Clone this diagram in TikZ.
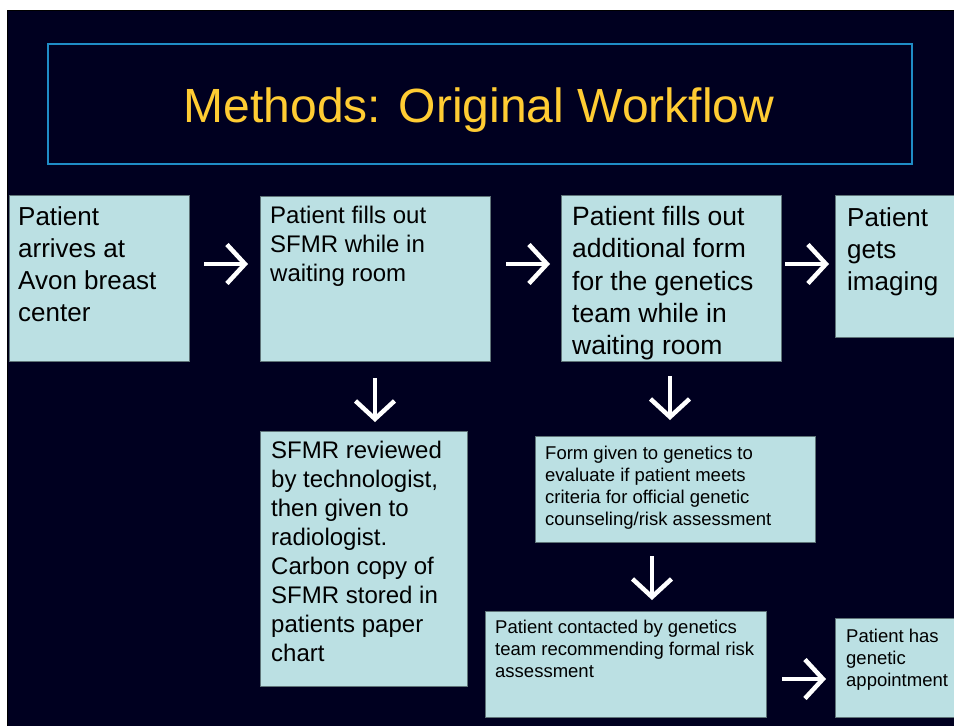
\documentclass[tikz,border=0pt]{standalone}
\usepackage{fontspec}
\setmainfont{Liberation Sans}
\usetikzlibrary{arrows.meta}
\definecolor{navy}{HTML}{000020}
\definecolor{boxfill}{HTML}{BBE0E3}
\definecolor{boxline}{HTML}{5F7478}
\definecolor{titleline}{HTML}{1F8CC6}
\definecolor{titletext}{HTML}{FFCC33}
\tikzset{
  stepbox/.style={draw=boxline, fill=boxfill, line width=1pt, rectangle, inner sep=0pt, anchor=north west},
  boxtext/.style={anchor=north west, inner sep=0pt, align=left, text=black},
  bigtext/.style={boxtext, font=\fontsize{26}{32}\selectfont},
  midtext/.style={boxtext, font=\fontsize{24}{29}\selectfont},
  smalltext/.style={boxtext, font=\fontsize{18.5}{22}\selectfont},
  garrow/.style={draw=white, line width=4.5pt, -{Straight Barb[length=18pt,width=39pt]}}
}
\begin{document}
\begin{tikzpicture}[x=1pt,y=-1pt]
\useasboundingbox (0,0) rectangle (954,726);
\fill[white] (0,0) rectangle (954,726);
\fill[navy] (7,10) rectangle (960,730);
\draw[black, line width=1pt] (7,730) -- (7,10.5) -- (960,10.5);
% title
\node[draw=titleline, line width=1.5pt, rectangle, inner sep=0pt, anchor=north west,
      minimum width=864pt, minimum height=120pt] (title) at (47,43) {};
\node[anchor=base, inner sep=0pt, text=titletext, font=\fontsize{48}{56}\selectfont] (titletxt) at (479,122) {Methods: Original Workflow};
% boxes
\node[stepbox, minimum width=180pt, minimum height=166pt] (b1) at (9,195) {};
\node[stepbox, minimum width=230pt, minimum height=165pt] (b2) at (260,196) {};
\node[stepbox, minimum width=220pt, minimum height=166pt] (b3) at (561,195) {};
\node[stepbox, minimum width=130pt, minimum height=142pt] (b4) at (835,195) {};
\node[stepbox, minimum width=207pt, minimum height=255pt] (b5) at (260,431) {};
\node[stepbox, minimum width=280pt, minimum height=106pt] (b6) at (535,436) {};
\node[stepbox, minimum width=281pt, minimum height=106pt] (b7) at (485,611) {};
\node[stepbox, minimum width=130pt, minimum height=99pt] (b8) at (835,618) {};
% texts
\node[bigtext] (t1) at (18,206) {Patient\\arrives at\\Avon breast\\center};
\node[midtext] (t2) at (270,206) {Patient fills out\\SFMR while in\\waiting room};
\node[bigtext, font=\fontsize{26.5}{32.3}\selectfont] (t3) at (572,206) {Patient fills out\\additional form\\for the genetics\\team while in\\waiting room};
\node[bigtext] (t4) at (847,207) {Patient\\gets\\imaging};
\node[midtext] (t5) at (271,441) {SFMR reviewed\\by technologist,\\then given to\\radiologist.\\Carbon copy of\\SFMR stored in\\patients paper\\chart};
\node[smalltext] (t6) at (545,446) {Form given to genetics to\\evaluate if patient meets\\criteria for official genetic\\counseling/risk assessment};
\node[smalltext] (t7) at (495,620) {Patient contacted by genetics\\team recommending formal risk\\assessment};
\node[smalltext] (t8) at (846,629) {Patient has\\genetic\\appointment};
% arrows
\coordinate (a1s) at (204,264); \coordinate (a1e) at (248,264);
\coordinate (a2s) at (506,264); \coordinate (a2e) at (550,264);
\coordinate (a3s) at (785,264); \coordinate (a3e) at (829,264);
\coordinate (a4s) at (782,679); \coordinate (a4e) at (826,679);
\coordinate (a5s) at (375,378); \coordinate (a5e) at (375,422);
\coordinate (a6s) at (670,376); \coordinate (a6e) at (670,420);
\coordinate (a7s) at (652,556); \coordinate (a7e) at (652,600);
\draw[garrow] (a1s) -- (a1e);
\draw[garrow] (a2s) -- (a2e);
\draw[garrow] (a3s) -- (a3e);
\draw[garrow] (a4s) -- (a4e);
\draw[garrow] (a5s) -- (a5e);
\draw[garrow] (a6s) -- (a6e);
\draw[garrow] (a7s) -- (a7e);
\end{tikzpicture}
\end{document}
